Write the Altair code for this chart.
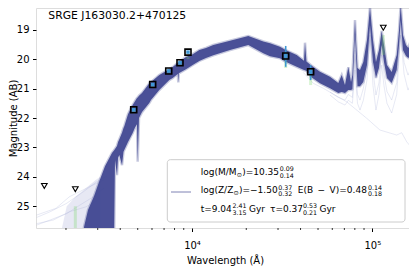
import altair as alt
import pandas as pd

FONT = "DejaVu Sans"
W, H = 373, 220

# ---------------- data ----------------
# envelope of the dark posterior model spectra (wavelength in Angstrom, AB mag)
band_wl = [2518, 2650, 2861, 3050, 3292, 3600, 3700, 3741, 3837, 3890, 3953, 4091, 4170, 4212,
           4416, 4589, 4689, 4830, 4953, 4998, 5082, 5282, 5797, 5924, 6585, 7484, 7816, 8340,
           8395, 8450, 9262, 10090, 10977, 11957, 13126, 16250, 20530, 24860, 27100, 30760,
           33090, 38080, 41800, 42340, 43150, 45530, 51280, 58270, 64790, 67670, 70570, 73610,
           76200, 77560, 80170, 82780, 85460, 89150, 93450, 97100, 100900, 104800, 108900,
           112700, 116100, 120600, 128100, 136600, 140700, 143700, 148000, 153800, 158400,
           163900, 170300, 174700]
band_top = [25.71, 25.13, 24.66, 24.18, 23.64, 23.19, 23.10, 23.05, 22.95, 22.82, 22.72, 22.50,
            22.34, 22.28, 21.87, 21.66, 21.56, 21.43, 21.32, 21.30, 21.24, 21.15, 20.82, 20.78,
            20.54, 20.34, 20.27, 20.12, 20.11, 20.10, 19.93, 19.83, 19.69, 19.62, 19.52, 19.37,
            19.21, 19.40, 19.46, 19.58, 19.69, 19.86, 20.05, 19.44, 20.08, 20.20, 20.43, 20.60,
            20.81, 20.54, 20.88, 20.27, 20.78, 20.54, 18.67, 20.30, 20.37, 20.10, 19.35, 18.23,
            19.35, 20.10, 19.69, 19.04, 19.52, 20.20, 20.44, 19.86, 19.01, 18.16, 19.18, 19.52,
            19.62, 19.35, 18.84, 18.67]
band_bot = [26.0, 26.0, 26.0, 26.0, 26.0, 26.0, 26.0, 23.43, 23.94, 23.35, 23.26, 23.60, 23.15,
            23.09, 22.82, 22.62, 22.51, 22.32, 22.21, 23.49, 22.00, 21.80, 21.49, 21.39, 21.05,
            20.71, 20.64, 20.50, 20.79, 20.48, 20.34, 20.20, 20.06, 19.96, 19.87, 19.69, 19.52,
            19.80, 19.90, 19.97, 20.09, 20.26, 20.37, 20.38, 20.40, 20.60, 20.82, 20.99, 21.15,
            21.12, 21.15, 21.05, 21.05, 21.02, 19.15, 20.92, 20.92, 20.78, 20.20, 18.84, 20.10,
            20.64, 20.30, 19.52, 20.10, 20.64, 20.81, 20.37, 19.52, 18.67, 19.69, 19.89, 19.96,
            19.86, 19.52, 19.42]

# faint, widely scattered model spectra
wedge_wl = [1900, 2020, 2273, 2583, 2934, 3100]
wedge_top = [25.74, 25.00, 24.66, 24.38, 24.10, 24.00]
uvA_wl = [1376, 1631, 2020, 2495, 2961, 3365]
uvA_mag = [25.38, 25.19, 24.90, 24.51, 24.17, 23.98]
uvB_wl = [1376, 1631, 2020, 2392, 2835, 3250]
uvB_mag = [25.64, 25.47, 25.25, 24.96, 24.68, 24.38]
uvC_wl = [1376, 1761, 2087, 2694, 3263]
uvC_mag = [25.30, 25.07, 24.68, 24.34, 24.10]
uvD_wl = [1376, 1700, 2087, 2583, 3000]
uvD_mag = [25.59, 25.47, 25.19, 25.02, 24.80]
ir_wl = [58270, 64790, 70570, 73610, 77560, 80170, 82780, 85460, 89150, 93450, 97100, 100900,
         104800, 108900, 112700, 116100, 120600, 128100, 136600, 143700, 150000, 157800,
         165000, 172500]
ir1_mag = [21.12, 21.30, 21.39, 21.20, 21.30, 19.69, 21.20, 21.39, 21.00, 20.30, 18.67, 20.40,
           21.22, 20.80, 19.86, 20.50, 21.10, 21.39, 20.80, 18.67, 20.10, 20.54, 20.30, 19.86]
ir2_mag = [21.22, 21.45, 21.56, 21.40, 21.50, 20.37, 21.50, 21.73, 21.40, 20.70, 19.18, 20.90,
           21.73, 21.20, 20.20, 20.90, 21.50, 21.83, 21.20, 19.18, 20.50, 21.05, 20.80, 20.37]
ir3_wl = [41430, 47080, 53480, 72110, 93110, 110300, 136600, 145600, 155200, 172500]
ir3_mag = [20.45, 20.82, 20.99, 21.45, 22.01, 22.41, 22.58, 22.50, 22.81, 23.15]

# photometry
phot_wl = [4751, 6053, 7430, 8579, 9502, 33090, 45500]
phot_mag = [21.72, 20.86, 20.40, 20.12, 19.76, 19.89, 20.43]
err_wl = [33090, 45500]
err_lo = [19.55, 20.20]
err_hi = [20.26, 20.71]
lim_wl = [1517, 2254, 115100]
lim_mag = [24.31, 24.42, 18.93]
mod_wl = [2254, 4751, 6053, 7430, 8579, 9502, 33090, 45500, 115100]
mod_lo = [25.00, 21.76, 20.89, 20.42, 20.14, 19.92, 19.75, 20.30, 19.18]
mod_hi = [25.74, 21.84, 20.95, 20.47, 20.19, 20.00, 20.30, 20.88, 19.86]
minor_ticks = [2000, 3000, 4000, 5000, 6000, 7000, 8000, 9000,
               20000, 30000, 40000, 50000, 60000, 70000, 80000, 90000]

title_text = "SRGE J163030.2+470125"

# ---------------- scales / axes ----------------
xscale = alt.Scale(type="log", domain=[1364, 159800], nice=False)
yscale = alt.Scale(domain=[18.26, 25.74], reverse=True, zero=False, nice=False)
xaxis = alt.Axis(values=[10000, 100000],
                 labelExpr="datum.value == 10000 ? '10⁴' : '10⁵'",
                 title="Wavelength (Å)", grid=False, domain=False,
                 tickSize=3.5, tickColor="black", tickWidth=1,
                 labelPadding=8.5, labelFontSize=10, labelFont=FONT, labelColor="black",
                 titleFont=FONT, titleFontSize=10, titleFontWeight="normal", titleColor="black",
                 titleX=189, titleY=35.8, titleBaseline="alphabetic")
yaxis = alt.Axis(values=[19, 20, 21, 22, 23, 24, 25], title="Magnitude (AB)", grid=False,
                 domain=False, tickSize=3.5, tickColor="black", tickWidth=1,
                 labelPadding=3.5, labelFontSize=10, labelFont=FONT, labelColor="black",
                 titleFont=FONT, titleFontSize=10, titleFontWeight="normal", titleColor="black",
                 titleX=-18, titleBaseline="bottom")


def X(f="wl"):
    return alt.X(f"{f}:Q", scale=xscale, axis=xaxis)


def Y(f="mag"):
    return alt.Y(f"{f}:Q", scale=yscale, axis=yaxis)


band_df = pd.DataFrame({"wl": band_wl, "mag": band_top, "bot": band_bot})
wedge_df = pd.DataFrame({"wl": wedge_wl, "mag": wedge_top, "bot": [26.0] * len(wedge_wl)})

faint_parts = []
for name, w, m in [("A", uvA_wl, uvA_mag), ("B", uvB_wl, uvB_mag), ("C", uvC_wl, uvC_mag),
                   ("D", uvD_wl, uvD_mag), ("I1", ir_wl, ir1_mag), ("I2", ir_wl, ir2_mag),
                   ("I3", ir3_wl, ir3_mag)]:
    faint_parts.append(pd.DataFrame({"wl": w, "mag": m, "id": name}))
faint_df = pd.concat(faint_parts, ignore_index=True)

NAVY = "#3b428f"

wedge = alt.Chart(wedge_df).mark_area(color="#c3c6e4", opacity=0.4, clip=True,
                                      orient="vertical").encode(x=X(), y=Y(), y2="bot:Q")
faint = alt.Chart(faint_df).mark_line(color="#a9aed6", opacity=0.35, strokeWidth=0.8,
                                      clip=True).encode(x=X(), y=Y(), detail="id:N")
band = alt.Chart(band_df).mark_area(color=NAVY, opacity=0.92, stroke=NAVY, strokeOpacity=0.3,
                                    strokeWidth=2.5, clip=True,
                                    orient="vertical").encode(x=X(), y=Y(), y2="bot:Q")
model_ph = alt.Chart(pd.DataFrame({"wl": mod_wl, "mag": mod_lo, "hi": mod_hi})).mark_rule(
    color="#7ad66a", opacity=0.3, strokeWidth=3, clip=True).encode(x=X(), y=Y(), y2="hi:Q")
errs = alt.Chart(pd.DataFrame({"wl": err_wl, "mag": err_lo, "hi": err_hi})).mark_rule(
    color="#3f97d3", strokeWidth=1.6).encode(x=X(), y=Y(), y2="hi:Q")
obs = alt.Chart(pd.DataFrame({"wl": phot_wl, "mag": phot_mag})).mark_point(
    shape="square", filled=True, color="#3f97d3", size=12, opacity=1).encode(x=X(), y=Y())
squares = alt.Chart(pd.DataFrame({"wl": phot_wl, "mag": phot_mag})).mark_point(
    shape="square", filled=False, color="black", size=36, strokeWidth=1.6,
    opacity=1).encode(x=X(), y=Y())
limits = alt.Chart(pd.DataFrame({"wl": lim_wl, "mag": lim_mag})).mark_point(
    shape="triangle-down", filled=False, color="black", size=32, strokeWidth=1.1,
    opacity=1).encode(x=X(), y=Y())
minor = alt.Chart(pd.DataFrame({"wl": minor_ticks})).mark_rule(
    color="black", strokeWidth=0.8).encode(x=X(), y=alt.value(H), y2=alt.value(H + 2))

one = pd.DataFrame({"a": [0]})
leg_box = alt.Chart(one).mark_rect(fill="white", fillOpacity=0.8, stroke="#cccccc",
                                   strokeWidth=1, cornerRadius=3).encode(
    x=alt.value(131.3), x2=alt.value(369), y=alt.value(151.7), y2=alt.value(214))
leg_line = alt.Chart(one).mark_rule(color="#7e82b4", strokeWidth=1).encode(
    x=alt.value(135), x2=alt.value(155), y=alt.value(184))

EN = "\u2002"
# legend / title text pieces: (text, x px, y px, font size)
texts = [
    (title_text, 12.3, 11.4, 10.8),
    ("log(M/M", 164.7, 166.5, 9), ("⊙", 200.7, 168.5, 6.3), (")=10.35", 206.2, 166.5, 9),
    ("0.09", 243.8, 163.0, 6.3), ("0.14", 243.8, 169.5, 6.3),
    ("log(Z/Z", 164.7, 185.0, 9), ("⊙", 197.5, 187.0, 6.3), (")=−1.50", 203.0, 185.0, 9),
    ("0.37", 242.2, 181.5, 6.3), ("0.32", 242.2, 188.0, 6.3),
    ("E(B" + EN + "−" + EN + "V)=0.48", 261.7, 185.0, 9),
    ("0.14", 332.0, 181.5, 6.3), ("0.18", 332.0, 188.0, 6.3),
    ("t=9.04", 164.7, 203.5, 9), ("2.41", 196.5, 200.0, 6.3), ("3.15", 196.5, 206.5, 6.3),
    ("Gyr", 213.0, 203.5, 9),
    ("τ=0.37", 234.0, 203.5, 9), ("0.53", 267.0, 200.0, 6.3), ("0.21", 267.0, 206.5, 6.3),
    ("Gyr", 283.5, 203.5, 9),
]
text_df = pd.DataFrame(texts, columns=["t", "px", "py", "fs"])
labels = alt.Chart(text_df).mark_text(font=FONT, align="left", baseline="alphabetic",
                                      color="black").encode(
    x=alt.X("px:Q", scale=None, axis=None), y=alt.Y("py:Q", scale=None, axis=None),
    text="t:N", size=alt.Size("fs:Q", scale=None, legend=None))

chart = alt.layer(wedge, faint, band, model_ph, errs, obs, squares, limits, minor,
                  leg_box, leg_line, labels).properties(
    width=W, height=H,
    autosize=alt.AutoSizeParams(type="none"),
    padding={"left": 28, "top": 0, "right": 0, "bottom": 43},
).configure_view(stroke="black", strokeWidth=1).configure(background="white")

chart.save("out.html", embed_options={"renderer": "svg", "actions": False})
